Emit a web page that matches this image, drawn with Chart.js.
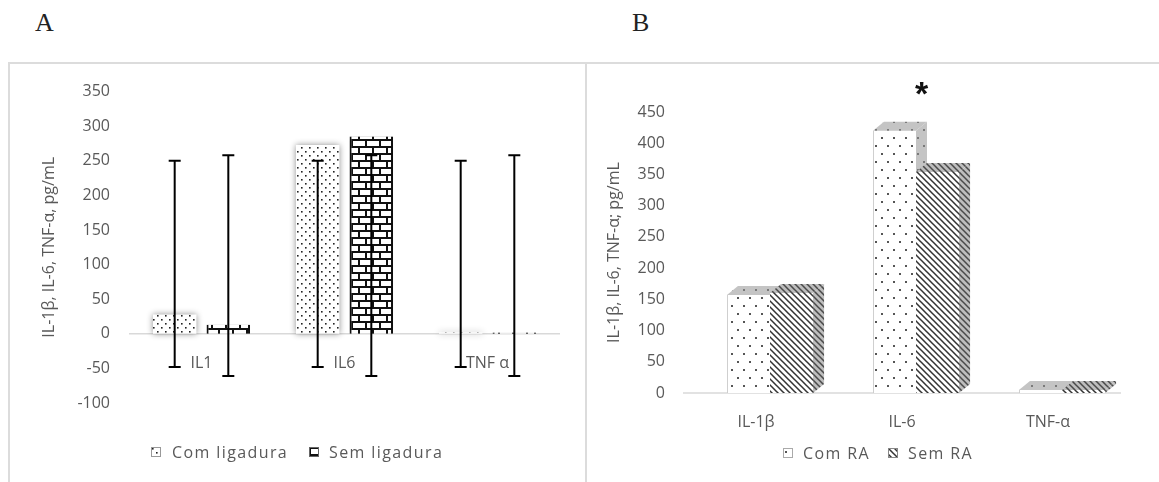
<!DOCTYPE html>
<html><head><meta charset="utf-8">
<script src="https://cdn.jsdelivr.net/npm/chart.js@4.4.1/dist/chart.umd.min.js"></script>
<style>
body{margin:0;background:#fff;width:1159px;height:482px;overflow:hidden;position:relative;font-family:"Open Sans",sans-serif;}
.frame{position:absolute;border-left:2px solid #dcdcdc;border-top:2px solid #dcdcdc;box-sizing:border-box;}
#fa{left:8px;top:62px;width:577px;height:430px;}
#fb{left:585px;top:62px;width:600px;height:430px;}
.wrap{position:absolute;}
#wa{left:8px;top:62px;width:577px;height:420px;}
#wb{left:585px;top:62px;width:574px;height:420px;}
.letter{position:absolute;font-family:"Liberation Serif",serif;font-size:26px;color:#222;line-height:1;}
.leg{position:absolute;font-size:16px;color:#595959;letter-spacing:1.4px;display:flex;align-items:center;height:20px;white-space:nowrap;}
.leg canvas{display:block;}
</style></head>
<body>
<div class="letter" style="left:35px;top:10px;">A</div>
<div class="letter" style="left:632px;top:10px;">B</div>
<div class="frame" id="fa"></div>
<div class="frame" id="fb"></div>
<div class="wrap" id="wa"><canvas id="ca" width="577" height="420"></canvas></div>
<div class="wrap" id="wb"><canvas id="cb" width="574" height="420"></canvas></div>
<div class="leg" style="left:151px;top:442px;"><canvas id="la1" width="10" height="10" style="margin-right:11px"></canvas>Com ligadura</div>
<div class="leg" style="left:309px;top:442px;"><canvas id="la2" width="10" height="10" style="margin-right:10px"></canvas>Sem ligadura</div>
<div class="leg" style="left:783px;top:443px;"><canvas id="lb1" width="10" height="10" style="margin-right:10px"></canvas>Com RA</div>
<div class="leg" style="left:888px;top:443px;"><canvas id="lb2" width="10" height="10" style="margin-right:10px"></canvas>Sem RA</div>
<script>
// ---------- data ----------
const categoriesA = ['IL1', 'IL6', 'TNF α'];
const comLigadura = [28, 273, 2];
const semLigadura = [13, 285, 2];
const comLigaduraErrLow = [-48, -48, -48];
const comLigaduraErrHigh = [250, 250, 250];
const semLigaduraErrLow = [-61, -61, -61];
const semLigaduraErrHigh = [258, 258, 258];
const yTicksA = [-100, 350, 50]; // min, max, step
const titleA = 'IL-1β, IL-6, TNF-α, pg/mL';

const categoriesB = ['IL-1β', 'IL-6', 'TNF-α'];
const comRA = [157, 420, 5];
const semRA = [160, 354, 5];
const yTicksB = [0, 450, 50];
const titleB = 'IL-1β, IL-6, TNF-α; pg/mL';
const significantB = [false, true, false];

// ---------- patterns ----------
function tile(w, h, draw) { const c = document.createElement('canvas'); c.width = w; c.height = h; draw(c.getContext('2d'), w, h); return c; }
const tDense = tile(8, 8, (x) => { x.fillStyle = '#fff'; x.fillRect(0,0,8,8); x.fillStyle = '#222'; x.fillRect(1,1,1.6,1.6); x.fillRect(5,5,1.6,1.6); });
const tBrick = tile(14, 14, (x) => { x.fillStyle = '#fff'; x.fillRect(0,0,14,14); x.fillStyle = '#111';
  x.fillRect(0,0,14,2); x.fillRect(0,7,14,2); x.fillRect(0,0,2,7); x.fillRect(7,7,2,7); });
const tSparse = tile(12, 16, (x) => { x.fillStyle = '#fff'; x.fillRect(0,0,12,16); x.fillStyle = '#555'; x.fillRect(2,3,2,2); x.fillRect(8,11,2,2); });
const tSparseG = tile(12, 16, (x) => { x.fillStyle = '#c4c4c4'; x.fillRect(0,0,12,16); x.fillStyle = '#7a7a7a'; x.fillRect(2,3,2,2); x.fillRect(8,11,2,2); });
function stripes(bg, fg) { return tile(6, 6, (x) => { x.fillStyle = bg; x.fillRect(0,0,6,6); x.strokeStyle = fg; x.lineWidth = 1.5;
  x.beginPath(); for (const o of [-6, 0, 6]) { x.moveTo(o - 1, -1); x.lineTo(o + 7, 7); } x.stroke(); }); }
const tStripe = stripes('#fff', '#333');
const tStripeG = stripes('#bdbdbd', '#4a4a4a');

const ctxA = document.getElementById('ca').getContext('2d');
const ctxB = document.getElementById('cb').getContext('2d');
const P = (ctx, t) => ctx.createPattern(t, 'repeat');

function legendIcon(id, t, border) { const c = document.getElementById(id).getContext('2d'); c.fillStyle = c.createPattern(t, 'repeat'); c.fillRect(0,0,10,10); c.strokeStyle = border; c.lineWidth = 1; c.strokeRect(0.5,0.5,9,9); }
legendIcon('la1', tDense, '#999'); legendIcon('la2', tBrick, '#666'); legendIcon('lb1', tSparse, '#aaa'); legendIcon('lb2', tStripe, '#888');

const font = { family: '"Open Sans", sans-serif', size: 16 };
const txt = '#595959';

// ---------- chart A ----------
const shadowPlugin = { id: 'shadow',
  beforeDatasetsDraw(chart) { const c = chart.ctx; c.save(); c.shadowColor = 'rgba(0,0,0,0.45)'; c.shadowBlur = 6; },
  afterDatasetsDraw(chart) { chart.ctx.restore(); } };
const errPlugin = { id: 'err', afterDatasetsDraw(chart) {
  const c = chart.ctx, ys = chart.scales.y;
  chart.data.datasets.forEach((ds, i) => {
    chart.getDatasetMeta(i).data.forEach((bar, j) => {
      const x = bar.x, yh = ys.getPixelForValue(ds.errHigh[j]), yl = ys.getPixelForValue(ds.errLow[j]);
      c.save(); c.strokeStyle = '#000'; c.lineWidth = 2; c.beginPath();
      c.moveTo(x, yl); c.lineTo(x, yh); c.moveTo(x - 6, yh); c.lineTo(x + 6, yh); c.moveTo(x - 6, yl); c.lineTo(x + 6, yl);
      c.stroke(); c.restore();
    });
  });
} };

new Chart(ctxA, {
  type: 'bar',
  data: { labels: categoriesA, datasets: [
    { label: 'Com ligadura', data: comLigadura, backgroundColor: P(ctxA, tDense), borderWidth: 0,
      errLow: comLigaduraErrLow, errHigh: comLigaduraErrHigh, categoryPercentage: 0.75, barPercentage: 0.81 },
    { label: 'Sem ligadura', data: semLigadura, backgroundColor: P(ctxA, tBrick), borderColor: '#111',
      borderWidth: { left: 2, right: 2, top: 0, bottom: 0 }, borderSkipped: false,
      errLow: semLigaduraErrLow, errHigh: semLigaduraErrHigh, categoryPercentage: 0.75, barPercentage: 0.81 }
  ] },
  options: {
    responsive: false, animation: false,
    layout: { padding: { left: 0, right: 26, top: 26, bottom: 79 } },
    plugins: { legend: { display: false }, tooltip: { enabled: false } },
    scales: {
      x: { position: { y: 0 }, grid: { display: false, drawTicks: false },
           border: { display: true, color: '#d9d9d9', width: 1.5 },
           ticks: { color: txt, font, padding: 20 } },
      y: { min: yTicksA[0], max: yTicksA[1], ticks: { stepSize: yTicksA[2], color: txt, font, padding: 20 },
           grid: { display: false, drawTicks: false }, border: { display: false },
           title: { display: true, text: titleA, color: txt, font, padding: { top: 32, bottom: 0 } },
           afterFit(s) { s.width = 122; } }
    }
  },
  plugins: [shadowPlugin, errPlugin]
});

// ---------- chart B ----------
const depth = { dx: 11, dy: -9 };
const labelShift = -14;
const zeroLine = { id: 'zero', beforeDatasetsDraw(chart) {
  const c = chart.ctx, a = chart.chartArea, y0 = chart.scales.y.getPixelForValue(0);
  c.save(); c.strokeStyle = '#d9d9d9'; c.lineWidth = 1.5; c.beginPath();
  c.moveTo(a.left + labelShift, y0); c.lineTo(a.right + labelShift, y0); c.stroke(); c.restore();
} };
function faces(c, bar, ds) {
  const { dx, dy } = depth;
  const { x, y, base, width } = bar.getProps(['x', 'y', 'base', 'width'], true);
  const l = x - width / 2, r = x + width / 2;
  c.save();
  c.fillStyle = ds.sideFill; c.beginPath();
  c.moveTo(r, y); c.lineTo(r + dx, y + dy); c.lineTo(r + dx, base + dy); c.lineTo(r, base); c.closePath(); c.fill();
  c.fillStyle = ds.topFill; c.beginPath();
  c.moveTo(l, y); c.lineTo(l + dx, y + dy); c.lineTo(r + dx, y + dy); c.lineTo(r, y); c.closePath(); c.fill();
  c.restore();
}
const bar3d = { id: 'bar3d', afterDatasetsDraw(chart) {
  const c = chart.ctx, dsets = chart.data.datasets;
  const metas = dsets.map((d, i) => chart.getDatasetMeta(i));
  chart.data.labels.forEach((lab, j) => {
    metas.forEach((m, i) => {
      const bar = m.data[j];
      if (i > 0) bar.draw(c);
      faces(c, bar, dsets[i]);
    });
  });
} };
const starPlugin = { id: 'star', afterDraw(chart) {
  const c = chart.ctx, a = chart.chartArea;
  significantB.forEach((s, j) => {
    if (!s) return;
    const xs = chart.data.datasets.map((d, i) => chart.getDatasetMeta(i).data[j].x);
    const x = (Math.min(...xs) + Math.max(...xs)) / 2 + depth.dx / 2;
    c.save(); c.fillStyle = '#111'; c.font = 'bold 34px "Liberation Sans", sans-serif';
    c.textAlign = 'center'; c.textBaseline = 'alphabetic';
    c.fillText('*', x, a.top - 7); c.restore();
  });
} };

new Chart(ctxB, {
  type: 'bar',
  data: { labels: categoriesB, datasets: [
    { label: 'Com RA', data: comRA, backgroundColor: P(ctxB, tSparse), borderColor: '#c8c8c8',
      borderWidth: { left: 1, right: 0, top: 0, bottom: 0 }, borderSkipped: false,
      topFill: P(ctxB, tSparseG), sideFill: P(ctxB, tSparseG),
      categoryPercentage: 0.59, barPercentage: 1.0 },
    { label: 'Sem RA', data: semRA, backgroundColor: P(ctxB, tStripe), borderWidth: 0,
      topFill: P(ctxB, tStripeG), sideFill: P(ctxB, tStripeG),
      categoryPercentage: 0.59, barPercentage: 1.0 }
  ] },
  options: {
    responsive: false, animation: false,
    layout: { padding: { left: 0, right: 24, top: 50, bottom: 89 } },
    plugins: { legend: { display: false }, tooltip: { enabled: false } },
    scales: {
      x: { position: { y: 0 }, grid: { display: false, drawTicks: false }, border: { display: false },
           ticks: { color: txt, font, padding: 20, labelOffset: labelShift } },
      y: { min: yTicksB[0], max: yTicksB[1], ticks: { stepSize: yTicksB[2], color: txt, font, padding: 32 },
           grid: { display: false, drawTicks: false }, border: { display: false },
           title: { display: true, text: titleB, color: txt, font, padding: { top: 20, bottom: 0 } },
           afterFit(s) { s.width = 112; } }
    }
  },
  plugins: [zeroLine, bar3d, starPlugin]
});
</script>
</body></html>
